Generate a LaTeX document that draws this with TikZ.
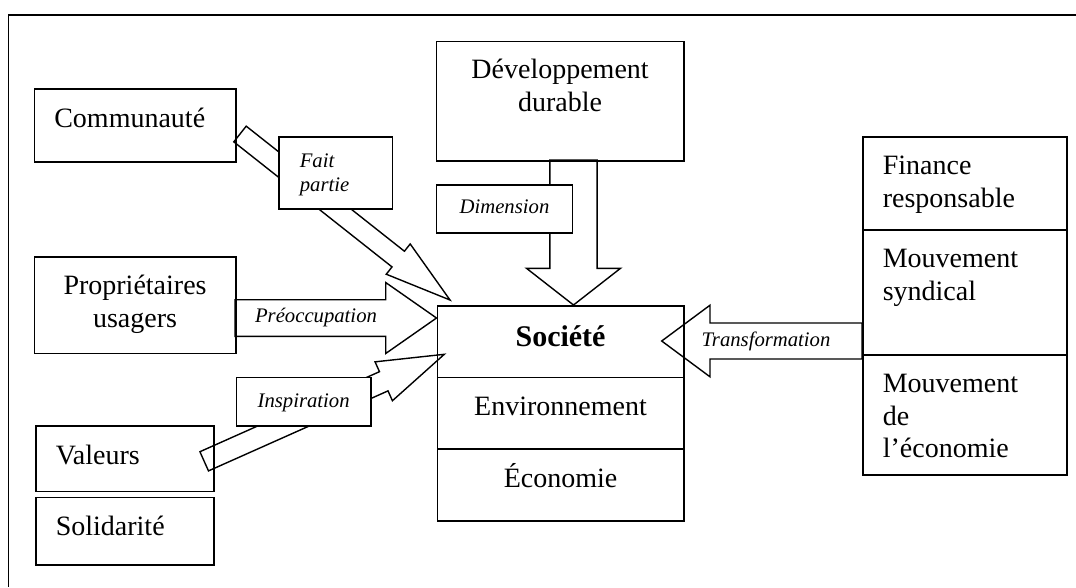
\documentclass[tikz,border=0pt]{standalone}
\usepackage{fontspec}
\setmainfont{Liberation Serif}
\usetikzlibrary{calc,positioning}

\newcommand{\boxfont}{\fontsize{28}{32.4}\selectfont}
\newcommand{\labfont}{\fontsize{20.7}{23.6}\selectfont\itshape}

% block arrow: tail, tip, half shaft, half head, head length
\newcommand{\fatarrow}[5]{%
  \coordinate (fa-b) at ($(#2)!#5!(#1)$);
  \draw[fat] ($(#1)!#3!90:(#2)$) -- ($(fa-b)!#3!90:(#2)$) -- ($(fa-b)!#4!90:(#2)$)
    -- (#2) -- ($(fa-b)!#4!-90:(#2)$) -- ($(fa-b)!#3!-90:(#2)$) -- ($(#1)!#3!-90:(#2)$) -- cycle;
}

\begin{document}
\begin{tikzpicture}[x=1pt,y=-1pt,
    box/.style={draw,line width=1.6pt,fill=white,anchor=north west,inner ysep=0pt,font=\boxfont},
    lbox/.style={box,align=left,inner xsep=20pt},
    cbox/.style={box,align=center,inner xsep=0pt},
    lab/.style={font=\labfont,inner sep=0pt},
    labbox/.style={box,font=\labfont},
    fat/.style={line width=1.4pt,line join=miter}]
  \useasboundingbox (0,0) rectangle (1076,587);
  \draw[line width=1.6pt] (1076,15) -- (8.5,15) -- (8.5,587);

  % left column
  \node[lbox,text width=161.5pt,text height=38.7pt,text depth=34pt] (com) at (33.5,88.3) {Communauté};
  \node[cbox,text width=201.5pt,text height=38pt,text depth=58.7pt] (prop) at (33.5,256) {Propriétaires\\usagers};
  \node[lbox,text width=138.3pt,text height=38.3pt,text depth=27.4pt] (val) at (35,425) {Valeurs};
  \node[lbox,text width=138.3pt,text height=38.3pt,text depth=29pt] (sol) at (35,496.7) {Solidarité};

  % centre
  \node[cbox,text width=247.5pt,text height=37.3pt,text depth=82pt] (dev) at (435.5,40.7) {Développement\\durable};
  \node[cbox,text width=246.5pt,text height=40.7pt,text depth=31pt,font=\fontsize{30}{34}\selectfont\bfseries] (soc) at (436.5,305) {Société};
  \node[cbox,text width=246.5pt,text height=38.3pt,text depth=33.3pt] (env) at (436.5,376.7) {Environnement};
  \node[cbox,text width=246.5pt,text height=38.4pt,text depth=33.3pt] (eco) at (436.5,448.3) {Économie};

  % right column
  \node[lbox,text width=164pt,text height=38pt,text depth=55pt] (fin) at (862,136) {Finance\\responsable};
  \node[lbox,text width=164pt,text height=38pt,text depth=87pt] (syn) at (862,229) {Mouvement\\syndical};
  \node[lbox,text width=164pt,text height=38pt,text depth=82pt] (mde) at (862,354) {Mouvement\\de\\l’économie};

  % arrows
  \coordinate (fp-a) at (240,134);   \coordinate (fp-b) at (450,300);
  \coordinate (pr-a) at (235,318);   \coordinate (pr-b) at (436.5,318);
  \coordinate (in-a) at (204.2,461.3); \coordinate (in-b) at (444.3,354.3);
  \coordinate (dv-a) at (573.5,160); \coordinate (dv-b) at (573.5,305);
  \coordinate (tr-a) at (862,341);   \coordinate (tr-b) at (661.7,341);
  \fatarrow{fp-a}{fp-b}{10pt}{19.3pt}{66pt}
  \fatarrow{pr-a}{pr-b}{18.3pt}{35.5pt}{50.8pt}
  \fatarrow{in-a}{in-b}{10.5pt}{21.3pt}{66.3pt}
  \fatarrow{dv-a}{dv-b}{23.6pt}{47pt}{36.7pt}
  \fatarrow{tr-a}{tr-b}{18pt}{35.8pt}{48.3pt}

  % labels
  \node[labbox,align=left,inner xsep=21pt,text width=71.7pt,text height=30.7pt,text depth=41.6pt] (fp) at (278,136) {Fait\\partie};
  \node[labbox,align=center,inner xsep=0pt,text width=136pt,text height=29pt,text depth=19pt] (dim) at (435.7,184) {Dimension};
  \node[labbox,align=center,inner xsep=0pt,text width=134.3pt,text height=30pt,text depth=18.3pt] (ins) at (235.7,376.7) {Inspiration};
  \node[lab] (pre) at (316,318) {Préoccupation};
  \node[lab] (tra) at (766,341) {Transformation};
\end{tikzpicture}
\end{document}
